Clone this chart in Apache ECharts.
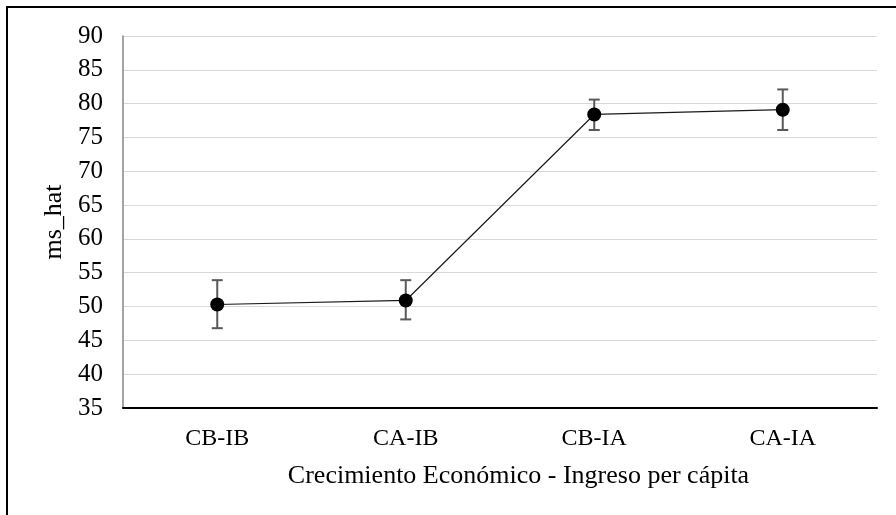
<!DOCTYPE html>
<html>
<head>
<meta charset="utf-8">
<script src="https://cdn.jsdelivr.net/npm/echarts@6/dist/echarts.min.js"></script>
<style>
  html, body { margin: 0; padding: 0; background: #fff; }
  #chart { width: 896px; height: 515px; }
</style>
</head>
<body>
<div id="chart"></div>
<script>
// Group labels and estimated values of ms_hat with their intervals
const categories = ['CB-IB', 'CA-IB', 'CB-IA', 'CA-IA'];
const msHat = [50.3, 50.9, 78.4, 79.1];
const lowerBound = [46.8, 48.1, 76.1, 76.1];
const upperBound = [53.9, 53.9, 80.6, 82.1];
const yTicks = { min: 35, max: 90, interval: 5 };

const serif = '"Liberation Serif", "DejaVu Serif", serif';
const chart = echarts.init(document.getElementById('chart'));

const errorData = categories.map((c, i) => [i, lowerBound[i], upperBound[i]]);

chart.setOption({
  animation: false,
  backgroundColor: '#ffffff',
  grid: { left: 123, right: 19, top: 36, bottom: 107 },
  graphic: [{
    type: 'polyline',
    shape: { points: [[7, 515], [7, 7], [896, 7]] },
    style: { stroke: '#000', lineWidth: 2, fill: null }
  }],
  xAxis: {
    type: 'category',
    data: categories,
    boundaryGap: true,
    axisLine: { lineStyle: { color: '#000', width: 2 } },
    axisTick: { show: false },
    axisLabel: { color: '#000', fontFamily: serif, fontSize: 24, margin: 19 },
    name: 'Crecimiento Económico - Ingreso per cápita',
    nameLocation: 'middle',
    nameGap: 55,
    nameTextStyle: { color: '#000', fontFamily: serif, fontSize: 26, padding: [0, 0, 0, 37] }
  },
  yAxis: {
    type: 'value',
    min: yTicks.min,
    max: yTicks.max,
    interval: yTicks.interval,
    axisLine: { show: true, lineStyle: { color: '#868686', width: 1.5 } },
    axisTick: { show: false },
    splitLine: { lineStyle: { color: '#d9d9d9', width: 1 } },
    axisLabel: { color: '#000', fontFamily: serif, fontSize: 25, margin: 20 },
    name: 'ms_hat',
    nameLocation: 'middle',
    nameGap: 53,
    nameTextStyle: { color: '#000', fontFamily: serif, fontSize: 26 }
  },
  series: [
    {
      type: 'custom',
      z: 1,
      data: errorData,
      renderItem: function (params, api) {
        const x = api.value(0);
        const lo = api.coord([x, api.value(1)]);
        const hi = api.coord([x, api.value(2)]);
        const hw = 5.5;
        const style = { stroke: '#595959', lineWidth: 2 };
        return {
          type: 'group',
          children: [
            { type: 'line', shape: { x1: hi[0], y1: hi[1], x2: lo[0], y2: lo[1] }, style: style },
            { type: 'line', shape: { x1: hi[0] - hw, y1: hi[1], x2: hi[0] + hw, y2: hi[1] }, style: style },
            { type: 'line', shape: { x1: lo[0] - hw, y1: lo[1], x2: lo[0] + hw, y2: lo[1] }, style: style }
          ]
        };
      }
    },
    {
      type: 'line',
      z: 2,
      data: msHat,
      symbol: 'circle',
      symbolSize: 14,
      itemStyle: { color: '#000' },
      lineStyle: { color: '#1a1a1a', width: 1.2 }
    }
  ]
});
</script>
</body>
</html>
